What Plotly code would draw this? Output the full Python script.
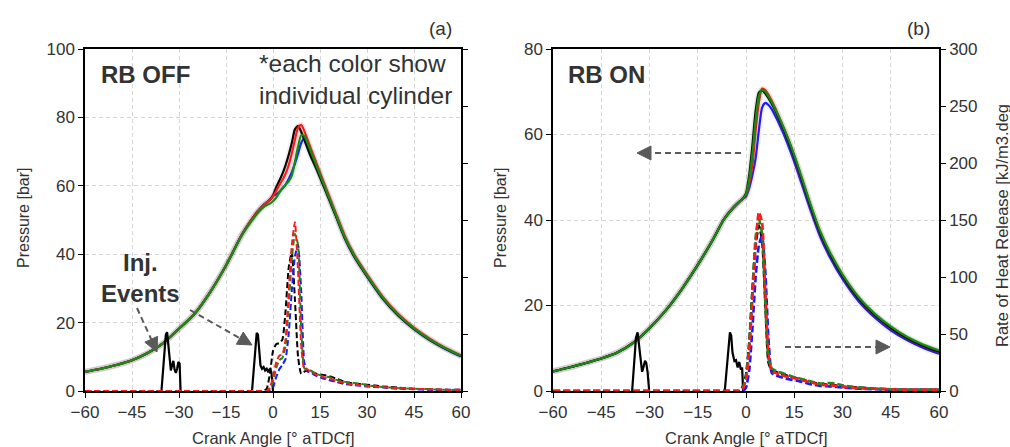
import plotly.graph_objects as go

W, H = 1010, 447

# ---------------- data ----------------
# crank angle grid for cylinder pressure [deg aTDCf]
ca_p = [-60, -55, -50, -45, -40, -35, -30, -25, -20, -15, -10, -7, -5, -3, -1,
        0, 1, 2, 3, 4, 5, 6, 7, 8, 9, 10, 11, 12, 14, 16, 18, 20, 23, 26, 30,
        35, 40, 45, 50, 55, 60]

# RB OFF: compression part (shared shape) and per-cylinder combustion part
off_comp = [5.6, 6.5, 7.6, 9.0, 11.1, 14.0, 18.2, 22.6, 29.0, 36.7, 45.6, 49.9, 52.4, 54.4, 55.9]
off_comp_g = [5.6, 6.5, 7.6, 9.0, 11.1, 14.0, 18.2, 22.6, 29.0, 36.7, 45.4, 49.5, 51.9, 53.8, 54.8]
off_p_black = off_comp + [57.2, 59.5, 61.5, 63.5, 66.0, 69.0, 72.5, 76.5, 77.5, 75.8, 73.4, 71.0, 68.7,
                          64.6, 60.2, 55.8, 51.3, 44.5, 39.2, 33.6, 27.1, 22.1, 18.2, 15.0, 12.4, 10.2]
off_p_red = off_comp + [57.0, 58.5, 60.2, 61.7, 63.5, 66.0, 69.5, 73.5, 77.0, 77.8, 76.0, 73.6, 71.1,
                        66.3, 61.5, 56.8, 52.1, 45.2, 39.8, 34.1, 27.6, 22.5, 18.5, 15.3, 12.6, 10.4]
off_p_green = off_comp_g + [55.5, 56.5, 58.0, 59.3, 60.3, 61.3, 63.0, 67.0, 71.5, 74.8, 74.6, 72.6, 70.3,
                            65.6, 60.9, 56.3, 51.7, 44.8, 39.5, 33.8, 27.3, 22.3, 18.3, 15.1, 12.5, 10.3]
off_p_blue = off_comp + [57.0, 57.5, 58.2, 59.2, 60.3, 62.0, 64.0, 66.5, 69.5, 72.5, 73.9, 72.3, 70.0,
                         65.3, 60.6, 56.0, 51.4, 44.5, 39.2, 33.5, 27.0, 22.0, 18.1, 14.9, 12.3, 10.1]

# RB ON
on_comp = [4.6, 5.5, 6.5, 7.6, 9.0, 11.3, 14.7, 18.8, 23.8, 29.5, 35.8, 40.0, 42.0, 43.6, 45.0]
on_p_black = on_comp + [46.2, 50.5, 57.5, 65.5, 69.8, 70.3, 69.6, 68.5, 67.2, 65.7, 64.1, 62.4, 60.7,
                        56.9, 52.6, 48.0, 43.4, 37.1, 32.2, 26.9, 21.6, 17.8, 14.8, 12.4, 10.6, 9.2]
on_p_green = on_comp + [46.0, 49.5, 55.5, 63.5, 69.0, 70.4, 70.0, 68.9, 67.6, 66.1, 64.5, 62.8, 61.1,
                        57.3, 53.0, 48.4, 43.8, 37.5, 32.6, 27.3, 22.0, 18.1, 15.1, 12.7, 10.9, 9.5]
on_p_red = on_comp + [45.8, 48.5, 53.0, 61.0, 67.5, 70.7, 70.4, 69.3, 67.9, 66.3, 64.6, 62.8, 61.0,
                      57.1, 52.7, 48.1, 43.5, 37.2, 32.3, 27.0, 21.7, 17.8, 14.8, 12.4, 10.6, 9.2]
on_p_blue = on_comp + [45.5, 47.5, 50.5, 54.5, 61.0, 66.3, 67.4, 66.9, 65.9, 64.5, 63.0, 61.3, 59.6,
                       55.7, 51.4, 46.9, 42.4, 36.2, 31.4, 26.2, 21.0, 17.2, 14.2, 11.9, 10.1, 8.7]

# crank angle grid for rate of heat release
ca_r = [-60, -40, -20, -10, -4, -3, -2, -1, 0, 1, 2, 3, 4, 5, 6, 7, 8, 9, 10, 11, 12,
        14, 16, 18, 20, 23, 26, 28, 30, 35, 40, 45, 50, 55, 60]

# RoHR [kJ/m3.deg], RB OFF
off_r_black = [0, 0, 0, 0, 0, 0, 2, 15, 35, 41, 42, 45, 70, 108, 122, 80, 30, 15, 17, 18, 17,
               15, 14, 13, 11, 8, 6.5, 6, 5.5, 4, 3, 2, 1.5, 1, 1]
off_r_red = [0, 0, 0, 0, 0, 0, 0, 3, 12, 25, 31, 32, 45, 85, 128, 148, 105, 40, 19, 19, 17,
             14, 12, 11, 9, 7, 5.5, 5, 4.5, 3.5, 2.5, 2, 1.5, 1, 1]
off_r_green = [0, 0, 0, 0, 0, 0, 0, 2, 8, 20, 27, 29, 40, 75, 115, 138, 128, 55, 20, 19, 18,
               15, 13, 12, 10, 8, 7, 6.5, 5, 3.5, 2.5, 2, 1.5, 1, 1]
off_r_blue = [0, 0, 0, 0, 0, 0, 0, 0, 3, 12, 19, 23, 28, 50, 88, 118, 128, 88, 25, 17, 16,
              13, 11, 9.5, 8, 6, 5, 4.5, 4, 3, 2, 1.5, 1, 1, 1]

# RoHR [kJ/m3.deg], RB ON
on_r_black = [0, 0, 0, 0, 0, 0, 0, 4, 14, 42, 88, 128, 145, 133, 78, 25, 18, 17, 16, 15, 14,
              12.5, 11, 9.5, 8, 6, 5.5, 5, 4, 3, 2, 1.5, 1, 1, 1]
on_r_blue = [0, 0, 0, 0, 0, 0, 0, 0, 3, 18, 55, 100, 128, 136, 105, 45, 16, 14, 13, 12, 11,
             10, 9, 7.5, 6, 4.5, 4, 3.5, 3, 2, 1.5, 1, 1, 1, 1]
on_r_green = [0, 0, 0, 0, 0, 0, 0, 3, 12, 40, 88, 135, 151, 138, 78, 28, 20, 18, 17, 16, 15,
              13, 11.5, 10, 8.5, 6.5, 7, 6.5, 5, 3, 2, 1.5, 1, 1, 1]
on_r_red = [0, 0, 0, 0, 0, 0, 0, 2, 10, 35, 80, 130, 157, 148, 88, 33, 17, 16, 15, 14, 13,
            12, 10.5, 9, 7.5, 5.5, 5, 4.5, 3.5, 2.5, 2, 1.5, 1, 1, 1]

# injection events (plotted on the pressure scale)
off_inj_ca = [-35.6, -35.0, -34.2, -33.8, -33.4, -33.0, -32.6, -32.2, -31.8, -31.4, -31.0, -30.6,
              -30.2, -29.8, -29.5, None,
              -6.7, -6.0, -5.2, -4.8, -4.4, -4.0, -3.5, -3.0, -2.5, -2.0, -1.5, -1.0, -0.5, -0.2, 0.0]
off_inj = [0, 8, 16.5, 17.2, 14, 9, 6, 7.5, 8.8, 6.2, 5.3, 6.5, 8.5, 8, 0, None,
           0, 8, 17, 16.5, 11, 7.5, 6.5, 7, 6, 6.5, 5.5, 6.5, 5.5, 3, 0]
on_inj_ca = [-35.4, -34.8, -34.2, -33.7, -33.2, -32.7, -32.3, -31.9, -31.4, -31.0, -30.6, -30.1, None,
             -6.6, -5.8, -5.0, -4.6, -4.2, -3.6, -3.1, -2.6, -2.1, -1.6, -1.2, -0.9]
on_inj = [0, 6, 12.5, 13.7, 10, 6.8, 4.5, 5.5, 7.1, 6.5, 4.5, 0, None,
          0, 7, 13.7, 13, 9, 7, 7.2, 5.5, 6.8, 5, 5.5, 0]

# ---------------- styling ----------------
FONT = "Liberation Sans, Arial, sans-serif"
TXT = "#333333"
C = {"black": "#000000", "red": "#ff1a1a", "green": "#178a17", "blue": "#1a1aff"}
HALO = {"black": "rgba(0,0,0,0.05)", "red": "rgba(255,40,40,0.10)",
        "green": "rgba(30,160,30,0.10)", "blue": "rgba(60,60,255,0.08)"}

fig = go.Figure()


def pressure(x, y, col, xa, ya):
    fig.add_trace(go.Scatter(x=x, y=y, mode="lines", xaxis=xa, yaxis=ya, hoverinfo="skip",
                             line=dict(color=HALO[col], width=6, shape="spline", smoothing=0.6),
                             showlegend=False))
    fig.add_trace(go.Scatter(x=x, y=y, mode="lines", xaxis=xa, yaxis=ya, name=col,
                             line=dict(color=C[col], width=2.2, shape="spline", smoothing=0.6),
                             showlegend=False))


def rohr(x, y, col, xa, ya, w, dash):
    fig.add_trace(go.Scatter(x=x, y=y, mode="lines", xaxis=xa, yaxis=ya, name=col,
                             line=dict(color=C[col], width=w, dash=dash, shape="spline", smoothing=0.5),
                             showlegend=False))


# panel (a): RB OFF
for col, ys in [("black", off_r_black), ("blue", off_r_blue), ("green", off_r_green), ("red", off_r_red)]:
    rohr(ca_r, ys, col, "x", "y2", 2, "6px,3px")
for col, ys in [("blue", off_p_blue), ("black", off_p_black), ("red", off_p_red), ("green", off_p_green)]:
    pressure(ca_p, ys, col, "x", "y")
fig.add_trace(go.Scatter(x=off_inj_ca, y=off_inj, mode="lines", xaxis="x", yaxis="y",
                         line=dict(color="black", width=2.2), showlegend=False))

# panel (b): RB ON
for col, ys in [("black", on_r_black), ("blue", on_r_blue), ("green", on_r_green), ("red", on_r_red)]:
    rohr(ca_r, ys, col, "x2", "y4", 2.6, "7px,3px")
for col, ys in [("blue", on_p_blue), ("red", on_p_red), ("black", on_p_black), ("green", on_p_green)]:
    pressure(ca_p, ys, col, "x2", "y3")
fig.add_trace(go.Scatter(x=on_inj_ca, y=on_inj, mode="lines", xaxis="x2", yaxis="y3",
                         line=dict(color="black", width=2.2), showlegend=False))

# ---------------- axes ----------------
def fx(px):
    return px / W


def fy(py):
    return 1 - py / H


tickfont = dict(family=FONT, size=17, color=TXT)
common = dict(showline=True, linecolor="black", linewidth=1.5, ticks="outside", ticklen=5,
              tickwidth=1.2, tickcolor="black", zeroline=False, tickfont=tickfont,
              automargin=False)
grid = dict(showgrid=True, gridcolor="#d6d6d6", griddash="4px,3px", gridwidth=1)

xticks = [-60, -45, -30, -15, 0, 15, 30, 45, 60]
ydom = [fy(391), fy(49)]

fig.update_layout(
    xaxis=dict(domain=[fx(85), fx(461)], range=[-60, 60], tickvals=xticks, anchor="y",
               mirror=True, **common, **grid),
    yaxis=dict(domain=ydom, range=[0, 100], tickvals=[0, 20, 40, 60, 80, 100], anchor="x",
               mirror=True, **common, **grid),
    yaxis2=dict(overlaying="y", side="right", anchor="x", range=[0, 300],
                tickvals=[0, 50, 100, 150, 200, 250, 300], showticklabels=False, showgrid=False,
                **common),
    xaxis2=dict(domain=[fx(553), fx(939)], range=[-60, 60], tickvals=xticks, anchor="y3",
                mirror=True, **common, **grid),
    yaxis3=dict(domain=ydom, range=[0, 80], tickvals=[0, 20, 40, 60, 80], anchor="x2",
                mirror=True, **common, **grid),
    yaxis4=dict(overlaying="y3", side="right", anchor="x2", range=[0, 300],
                tickvals=[0, 50, 100, 150, 200, 250, 300], showgrid=False, **common),
    width=W, height=H, margin=dict(l=0, r=0, t=0, b=0, pad=0, autoexpand=False),
    paper_bgcolor="white", plot_bgcolor="white",
    font=dict(family=FONT, color=TXT),
    showlegend=False,
)

# ---------------- text ----------------
ann = []


def text(x, y, s, size, bold=False, xanchor="center", angle=0, align="center"):
    ann.append(dict(x=fx(x), y=fy(y), xref="paper", yref="paper", text=(f"<b>{s}</b>" if bold else s),
                    showarrow=False, xanchor=xanchor, yanchor="middle", textangle=angle, align=align,
                    font=dict(family=FONT, size=size, color=TXT)))


text(440, 28, "(a)", 19)
text(918, 28, "(b)", 19)
text(99, 74, "RB OFF", 24, bold=True, xanchor="left")
text(566, 75, "RB ON", 24, bold=True, xanchor="left")
text(257, 79, "*each color show<br>individual cylinder", 24.5, xanchor="left", align="left")
text(140, 278, "Inj.<br>Events", 24, bold=True)
text(23, 218, "Pressure [bar]", 16, angle=-90)
text(500, 218, "Pressure [bar]", 16, angle=-90)
text(273, 438, "Crank Angle [° aTDCf]", 16.5)
text(746, 438, "Crank Angle [° aTDCf]", 16.5)
text(1002, 226, "Rate of Heat Release [kJ/m3.deg", 16.5, angle=-90)

# ---------------- dashed arrows ----------------
shapes = []
ARROW = "#5a5a5a"


def arrow(x0, y0, x1, y1, L=14, hw=7):
    dx, dy = x1 - x0, y1 - y0
    n = (dx * dx + dy * dy) ** 0.5
    ux, uy = dx / n, dy / n
    bx, by = x1 - ux * L, y1 - uy * L
    px, py = -uy, ux
    shapes.append(dict(type="line", xref="paper", yref="paper", x0=fx(x0), y0=fy(y0),
                       x1=fx(bx), y1=fy(by), line=dict(color=ARROW, width=2, dash="6px,4px")))
    pts = [(x1, y1), (bx + px * hw, by + py * hw), (bx - px * hw, by - py * hw)]
    path = "M " + " L ".join(f"{fx(a):.5f},{fy(b):.5f}" for a, b in pts) + " Z"
    shapes.append(dict(type="path", xref="paper", yref="paper", path=path,
                       fillcolor=ARROW, line=dict(color=ARROW, width=1)))


arrow(137, 308, 157, 352)
arrow(190, 310, 252, 345)
arrow(741, 153, 637, 153)
arrow(785, 347, 890, 347)

fig.update_layout(annotations=ann, shapes=shapes)

fig.write_html("out.html")
